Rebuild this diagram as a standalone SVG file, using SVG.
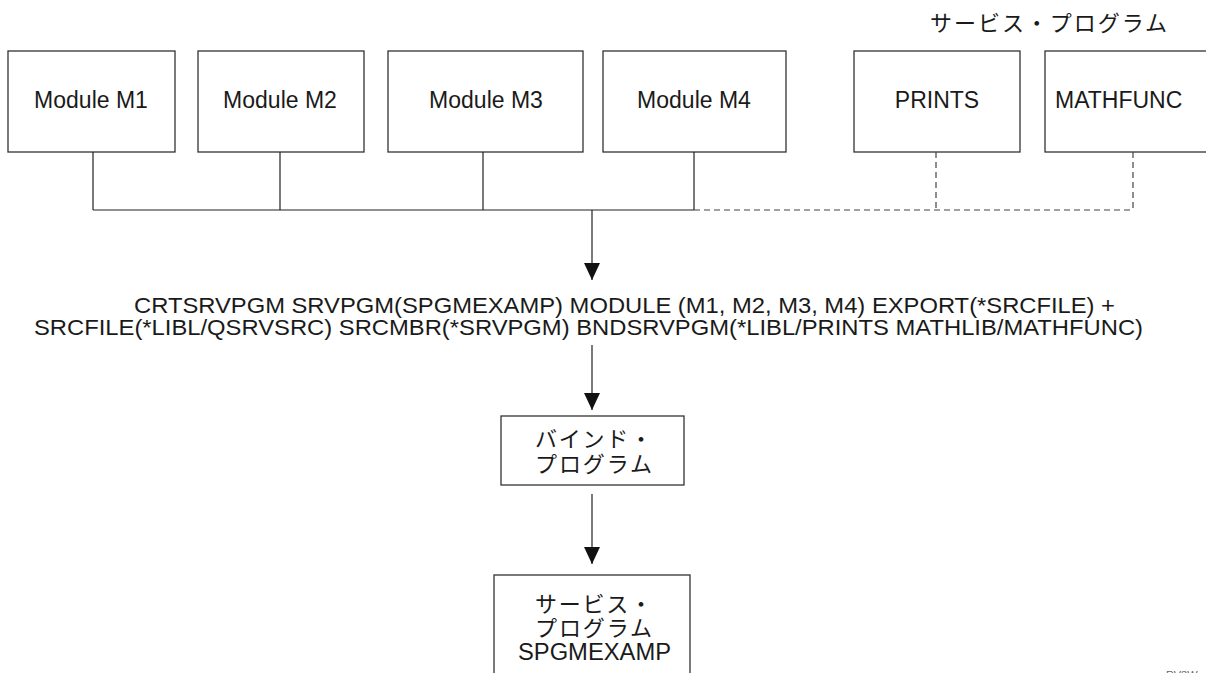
<svg xmlns="http://www.w3.org/2000/svg" width="1206" height="673" viewBox="0 0 1206 673">
<style>
.box{fill:#fff;stroke:#333;stroke-width:1.3}
.ln{fill:none;stroke:#222;stroke-width:1.2}
.dash{fill:none;stroke:#444;stroke-width:1.2;stroke-dasharray:6,4}
.t{font-family:"Liberation Sans",Arial,"Noto Sans CJK JP",sans-serif;font-size:23px;fill:#1a1a1a}
.j{font-family:"Noto Sans CJK JP","Liberation Sans",sans-serif;font-size:22px;fill:#1a1a1a}
.c{font-family:"Liberation Sans",Arial,sans-serif;font-size:22px;fill:#1a1a1a}
</style>
<defs>
<marker id="ah" markerWidth="18" markerHeight="16" refX="17" refY="8" orient="auto" markerUnits="userSpaceOnUse" viewBox="0 0 18 16">
<path d="M0,0 L17,8 L0,16 Z" fill="#111"/>
</marker>
</defs>
<text class="j" x="930" y="31" textLength="237" lengthAdjust="spacing">サービス・プログラム</text>
<g id="m1"><rect class="box" x="8" y="51" width="167" height="101"/><text class="t" x="91" y="108" text-anchor="middle">Module M1</text></g>
<g id="m2"><rect class="box" x="198" y="51" width="166" height="101"/><text class="t" x="280" y="108" text-anchor="middle">Module M2</text></g>
<g id="m3"><rect class="box" x="388" y="51" width="195" height="101"/><text class="t" x="486" y="108" text-anchor="middle">Module M3</text></g>
<g id="m4"><rect class="box" x="603" y="51" width="183" height="101"/><text class="t" x="694" y="108" text-anchor="middle">Module M4</text></g>
<g id="prints"><rect class="box" x="854" y="51" width="166" height="101"/><text class="t" x="937" y="108" text-anchor="middle">PRINTS</text></g>
<g id="mathfunc"><rect class="box" x="1045" y="51" width="170" height="101"/><text class="t" x="1055" y="108">MATHFUNC</text></g>
<g id="connectors">
<path class="ln" d="M93,152 V210 M280,152 V210 M483,152 V210 M694,152 V210 M93,210 H694"/>
<path class="dash" d="M694,210 H1133 M936,152 V210 M1133,152 V210"/>
<path class="ln" d="M592,210 V280" marker-end="url(#ah)"/>
<path class="ln" d="M592,345 V410" marker-end="url(#ah)"/>
<path class="ln" d="M592,494 V564" marker-end="url(#ah)"/>
</g>
<g id="cmd">
<text class="c"><tspan x="134" y="313" textLength="981" lengthAdjust="spacingAndGlyphs">CRTSRVPGM SRVPGM(SPGMEXAMP) MODULE (M1, M2, M3, M4) EXPORT(*SRCFILE) +</tspan><tspan x="34" y="335" textLength="1109" lengthAdjust="spacingAndGlyphs">SRCFILE(*LIBL/QSRVSRC) SRCMBR(*SRVPGM) BNDSRVPGM(*LIBL/PRINTS MATHLIB/MATHFUNC)</tspan></text>
</g>
<g id="bind"><rect class="box" x="501" y="416" width="183" height="69"/>
<text class="j"><tspan x="535" y="447" textLength="117" lengthAdjust="spacing">バインド・</tspan><tspan x="535" y="472" textLength="117" lengthAdjust="spacing">プログラム</tspan></text></g>
<g id="srvpgm"><rect class="box" x="494" y="575" width="196" height="110"/>
<text class="j"><tspan x="535" y="612" textLength="117" lengthAdjust="spacing">サービス・</tspan><tspan x="535" y="636" textLength="117" lengthAdjust="spacing">プログラム</tspan><tspan x="518" y="660" textLength="153" lengthAdjust="spacingAndGlyphs" style="font-family:'Liberation Sans',Arial,sans-serif;font-size:23px">SPGMEXAMP</tspan></text></g>
<text x="1166" y="679" style="font-family:'Liberation Sans',sans-serif;font-size:11px;fill:#666">RV3W</text>
</svg>
